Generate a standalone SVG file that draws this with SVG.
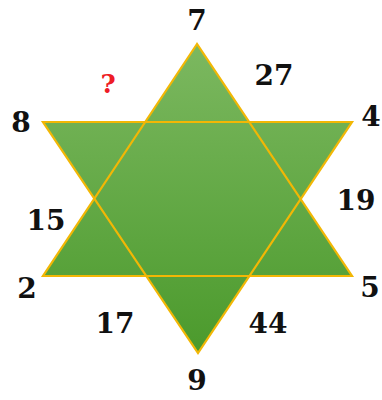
<svg xmlns="http://www.w3.org/2000/svg" width="382" height="400" viewBox="0 0 382 400">
<defs>
<linearGradient id="gu" x1="0" y1="44" x2="0" y2="353" gradientUnits="userSpaceOnUse">
<stop offset="0" stop-color="#7cb860"/>
<stop offset="1" stop-color="#4b9a2c"/>
</linearGradient>
</defs>
<style>
.tri{fill:url(#gu);stroke:none}
.edge{fill:none;stroke:#f2b705;stroke-width:2.2;stroke-linejoin:miter}
.n{font-family:"DejaVu Serif","Liberation Serif",serif;font-weight:bold;font-size:28px;fill:#111;text-anchor:middle}
.q{font-family:"DejaVu Serif","Liberation Serif",serif;font-weight:bold;font-size:26px;fill:#ee1c25;text-anchor:middle}
</style>
<g id="star">
<polygon class="tri" points="197,44 43,276 352,276"/>
<polygon class="tri" points="43,122 352,122 198,353"/>
</g>
<g id="connectors">
<polygon class="edge" points="197,44 43,276 352,276"/>
<polygon class="edge" points="43,122 352,122 198,353"/>
</g>
<g id="labels">
<text id="n7" class="n" x="197" y="30">7</text>
<text id="n8" class="n" x="21" y="132">8</text>
<text id="n4" class="n" x="371" y="126">4</text>
<text id="n27" class="n" x="274" y="85">27</text>
<text id="nq" class="q" x="108" y="93">?</text>
<text id="n19" class="n" x="356" y="210">19</text>
<text id="n15" class="n" x="46" y="230">15</text>
<text id="n2" class="n" x="27" y="298">2</text>
<text id="n5" class="n" x="370" y="297">5</text>
<text id="n17" class="n" x="115" y="333">17</text>
<text id="n44" class="n" x="268" y="333">44</text>
<text id="n9" class="n" x="197" y="390">9</text>
</g>
</svg>
